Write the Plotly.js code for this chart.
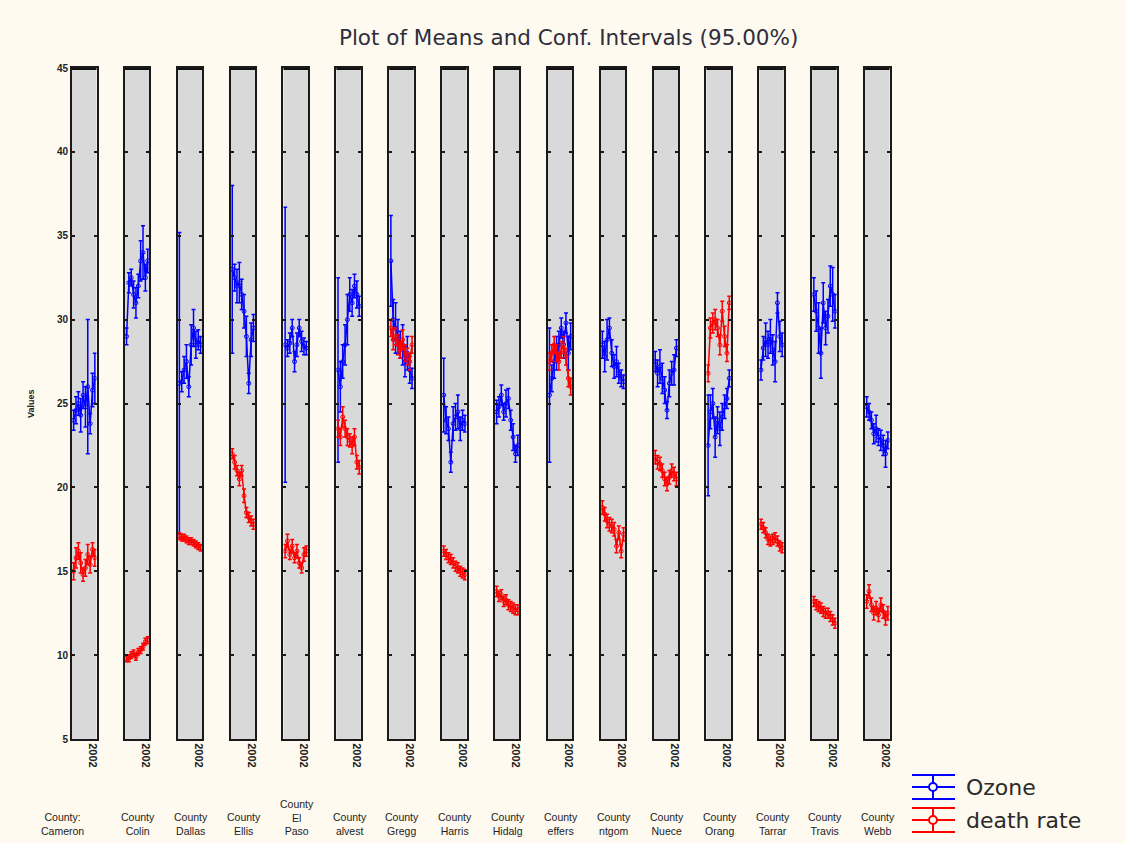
<!DOCTYPE html>
<html>
<head>
<meta charset="utf-8">
<script src="https://cdn.plot.ly/plotly-3.0.1.min.js"></script>
<style>
html,body{margin:0;padding:0;background:#FEFAEF;}
#chart{width:1126px;height:843px;}
</style>
</head>
<body>
<div id="chart"></div>
<script>
// ---- data ----
const countyLabels = ['County:<br>Cameron','County<br>Colin','County<br>Dallas','County<br>Ellis','County<br>El<br>Paso','County<br>alvest','County<br>Gregg','County<br>Harris','County<br>Hidalg','County<br>effers','County<br>ntgom','County<br>Nuece','County<br>Orang','County<br>Tarrar','County<br>Travis','County<br>Webb'];
const yearLabel = '2002';
const seriesNames = ['Ozone','death rate'];

const ozone = [
  [24.0, 24.6, 25.0, 24.3, 25.5, 24.8, 26.0, 23.8, 25.8, 26.5],
  [29.0, 32.2, 32.5, 31.5, 31.0, 32.0, 33.5, 34.0, 32.5, 33.5],
  [26.2, 26.3, 27.0, 27.5, 26.0, 28.5, 29.5, 28.5, 28.8, 28.5],
  [33.0, 32.5, 32.0, 32.2, 31.5, 30.5, 29.0, 26.2, 28.8, 29.5],
  [28.5, 28.3, 28.6, 29.5, 27.5, 28.5, 29.5, 28.7, 28.4, 28.3],
  [27.0, 26.0, 27.5, 28.5, 30.0, 31.5, 31.0, 32.0, 31.5, 30.8],
  [33.5, 30.0, 29.5, 29.0, 28.5, 28.5, 27.5, 28.0, 27.0, 26.5],
  [25.5, 24.0, 23.5, 21.5, 23.8, 24.2, 24.5, 23.5, 24.0, 23.8],
  [24.5, 24.8, 25.5, 24.5, 25.0, 25.3, 24.0, 23.0, 22.0, 22.5],
  [25.5, 26.5, 27.5, 28.0, 28.5, 29.5, 28.5, 29.8, 28.0, 29.0],
  [28.5, 27.8, 28.8, 29.5, 28.0, 27.2, 27.5, 26.8, 26.5, 26.3],
  [27.5, 26.8, 27.2, 26.5, 25.8, 24.6, 26.2, 26.8, 27.0, 28.3],
  [22.5, 24.5, 25.0, 23.0, 24.0, 23.5, 24.2, 24.8, 25.3, 26.5],
  [27.0, 28.3, 28.8, 28.5, 29.0, 28.2, 27.5, 31.0, 29.0, 28.5],
  [31.5, 30.5, 29.5, 28.0, 31.0, 29.5, 30.2, 32.0, 31.5, 30.5],
  [24.8, 24.5, 24.0, 23.2, 23.5, 23.0, 22.8, 22.5, 22.0, 22.8]
];
const ozoneErr = [
  [0.6, 0.8, 0.7, 1.0, 0.8, 1.2, 4.0, 0.6, 1.0, 1.5],
  [0.5, 0.6, 0.5, 0.8, 0.9, 0.7, 1.2, 1.6, 0.8, 0.7],
  [9.0, 0.6, 0.8, 1.0, 0.6, 1.2, 1.1, 0.8, 0.6, 0.5],
  [5.0, 0.8, 1.0, 1.2, 0.9, 1.0, 1.2, 0.6, 1.0, 0.8],
  [8.2, 0.5, 0.6, 0.5, 0.6, 0.7, 0.5, 0.6, 0.5, 0.4],
  [5.5, 1.5, 1.0, 1.2, 1.5, 1.0, 0.8, 0.7, 0.8, 0.6],
  [2.7, 1.2, 1.5, 1.0, 0.8, 1.2, 0.9, 1.0, 0.8, 0.6],
  [2.2, 0.8, 0.7, 0.6, 1.0, 0.8, 1.0, 0.7, 0.6, 0.5],
  [0.7, 0.6, 0.6, 0.5, 0.8, 0.6, 0.6, 0.8, 0.5, 0.6],
  [4.0, 0.8, 1.0, 1.0, 0.8, 0.6, 0.8, 0.6, 1.0, 0.8],
  [0.8, 0.9, 1.2, 0.6, 0.8, 0.7, 0.9, 0.6, 0.5, 0.4],
  [0.6, 0.8, 1.0, 0.9, 0.8, 0.5, 0.8, 0.7, 0.9, 0.5],
  [3.0, 1.0, 0.9, 1.2, 0.8, 1.0, 0.8, 0.7, 0.6, 0.5],
  [0.6, 0.7, 1.0, 0.8, 1.0, 0.9, 1.2, 0.6, 0.9, 0.7],
  [1.0, 1.2, 1.5, 1.5, 1.2, 1.0, 1.0, 1.2, 1.6, 1.0],
  [0.6, 0.5, 0.5, 0.6, 0.8, 0.5, 0.6, 0.6, 0.8, 0.5]
];
const death = [
  [15.0, 15.8, 16.2, 15.5, 14.8, 15.2, 16.0, 15.4, 16.3, 15.8],
  [9.8, 9.8, 10.0, 10.1, 9.9, 10.2, 10.3, 10.5, 10.8, 10.9],
  [17.1, 17.0, 17.0, 16.9, 16.8, 16.8, 16.7, 16.6, 16.5, 16.4],
  [22.0, 21.5, 21.0, 20.5, 21.0, 19.5, 18.5, 18.2, 18.0, 17.8],
  [16.2, 16.8, 16.0, 16.5, 15.8, 16.2, 15.5, 15.2, 16.0, 16.2],
  [23.5, 23.0, 24.2, 23.5, 23.0, 22.8, 22.5, 23.0, 21.5, 21.2],
  [29.5, 28.8, 29.0, 28.5, 28.2, 28.8, 28.0, 27.8, 27.5, 28.5],
  [16.2, 16.0, 15.8, 15.7, 15.5, 15.3, 15.2, 15.0, 14.9, 14.8],
  [13.8, 13.5, 13.6, 13.2, 13.3, 13.0, 12.9, 12.8, 12.7, 12.7],
  [27.5, 28.0, 28.5, 28.0, 27.5, 28.2, 28.5, 27.8, 26.5, 26.0],
  [18.8, 18.4, 18.0, 17.8, 17.7, 17.5, 16.5, 17.3, 16.2, 17.2],
  [21.8, 21.5, 21.4, 21.0, 20.5, 20.2, 20.6, 21.0, 20.8, 20.5],
  [26.8, 29.5, 29.8, 30.0, 29.5, 28.5, 30.5, 29.0, 28.0, 31.0],
  [17.8, 17.6, 17.3, 16.9, 16.8, 16.9, 17.0, 16.8, 16.5, 16.4],
  [13.2, 13.0, 12.9, 12.8, 12.6, 12.5, 12.5, 12.3, 12.1, 11.9],
  [13.2, 13.8, 13.0, 12.5, 12.8, 12.4, 13.0, 12.6, 12.2, 12.5]
];
const deathErr = [
  [0.5, 0.6, 0.5, 0.6, 0.4, 0.5, 0.6, 0.5, 0.4, 0.5],
  [0.2, 0.2, 0.2, 0.2, 0.2, 0.2, 0.2, 0.2, 0.2, 0.2],
  [0.2, 0.2, 0.2, 0.2, 0.2, 0.2, 0.2, 0.2, 0.2, 0.2],
  [0.3, 0.4, 0.3, 0.4, 0.3, 0.4, 0.3, 0.3, 0.3, 0.3],
  [0.4, 0.4, 0.3, 0.4, 0.3, 0.4, 0.3, 0.3, 0.4, 0.3],
  [0.5, 0.5, 0.6, 0.5, 0.5, 0.4, 0.5, 0.5, 0.4, 0.4],
  [0.5, 0.6, 0.5, 0.6, 0.5, 0.6, 0.5, 0.5, 0.5, 0.5],
  [0.3, 0.3, 0.3, 0.3, 0.3, 0.3, 0.3, 0.3, 0.3, 0.3],
  [0.3, 0.3, 0.3, 0.3, 0.3, 0.3, 0.3, 0.3, 0.3, 0.3],
  [0.5, 0.5, 0.5, 0.5, 0.5, 0.5, 0.5, 0.5, 0.5, 0.5],
  [0.4, 0.4, 0.4, 0.4, 0.4, 0.4, 0.4, 0.4, 0.4, 0.4],
  [0.4, 0.4, 0.4, 0.4, 0.4, 0.4, 0.4, 0.4, 0.4, 0.4],
  [0.5, 0.6, 0.6, 0.6, 0.5, 0.6, 0.6, 0.6, 0.5, 0.4],
  [0.3, 0.3, 0.3, 0.3, 0.3, 0.3, 0.3, 0.3, 0.3, 0.3],
  [0.3, 0.3, 0.3, 0.3, 0.3, 0.3, 0.3, 0.3, 0.3, 0.3],
  [0.4, 0.4, 0.4, 0.4, 0.4, 0.4, 0.4, 0.4, 0.4, 0.4]
];
const xIndex = [0,1,2,3,4,5,6,7,8,9];
const yTicks = [5,10,15,20,25,30,35,40,45];

// ---- build ----
const W = 1126, H = 843, plotTop = 68, plotBottom = 739;
const panelLeft = 72, panelPitch = 52.87, panelWidth = 24.5;
const colors = ['#0000FF', '#FF0000'];
const FONT = 'Liberation Sans, Arial, sans-serif';
const py = p => (plotBottom - p) / (plotBottom - plotTop); // pixel row -> paper y
const px = p => p / W;

const traces = [];
const layout = {
  width: W, height: H,
  paper_bgcolor: '#FEFAEF',
  plot_bgcolor: '#D9D9D9',
  margin: {l: 0, r: 0, t: plotTop, b: H - plotBottom},
  showlegend: false,
  title: {text: 'Plot of Means and Conf. Intervals (95.00%)', x: 0.505, xanchor: 'center', y: 0.955, yanchor: 'middle',
          font: {family: 'DejaVu Sans, Verdana, sans-serif', size: 21.5, color: '#2e2e3c'}},
  annotations: [],
  shapes: []
};

countyLabels.forEach((lab, i) => {
  const n = i + 1;
  const xa = n === 1 ? 'x' : 'x' + n;
  const ya = n === 1 ? 'y' : 'y' + n;
  const left = panelLeft + i * panelPitch;
  layout[n === 1 ? 'xaxis' : 'xaxis' + n] = {
    domain: [left / W, (left + panelWidth) / W],
    anchor: ya,
    range: [-0.7, 9.7],
    showline: true, mirror: true, linecolor: '#1a1a1a', linewidth: 2,
    showgrid: false, zeroline: false,
    tickmode: 'array', tickvals: [8], ticktext: [yearLabel], tickangle: 90,
    ticks: '', tickfont: {family: FONT, size: 11, color: '#222', weight: 'bold'},
    fixedrange: true
  };
  layout[n === 1 ? 'yaxis' : 'yaxis' + n] = {
    domain: [0, 1],
    anchor: xa,
    range: [5, 45],
    tickmode: 'array', tickvals: yTicks,
    showticklabels: n === 1,
    ticks: 'inside', ticklen: 3, tickwidth: 2, tickcolor: '#1a1a1a',
    showline: true, mirror: 'ticks', linecolor: '#1a1a1a', linewidth: 2,
    showgrid: false, zeroline: false,
    tickfont: {family: FONT, size: 10, color: '#222', weight: 'bold'},
    fixedrange: true
  };
  // thick top border
  layout.shapes.push({type: 'line', xref: xa + ' domain', yref: ya, x0: 0, x1: 1, y0: 45, y1: 45,
                      line: {color: '#111', width: 4}});
  // county label (first one sits further left, as in the original)
  const shift = i === 0 ? -22 : 1;
  layout.annotations.push({text: lab, xref: 'paper', yref: 'paper', x: px(left + panelWidth / 2 + shift),
                           y: py(839), xanchor: 'center', yanchor: 'bottom', showarrow: false,
                           font: {family: FONT, size: 10.5, color: '#222'}});
  [[ozone, ozoneErr], [death, deathErr]].forEach((pair, s) => {
    traces.push({
      type: 'scatter', mode: 'lines+markers',
      x: xIndex, y: pair[0][i],
      xaxis: xa, yaxis: ya,
      name: seriesNames[s], legendgroup: seriesNames[s], showlegend: false,
      line: {color: colors[s], width: 1.5},
      marker: {symbol: 'circle-open', size: 4, color: colors[s], line: {width: 1}},
      error_y: {type: 'data', array: pair[1][i], visible: true, color: colors[s], thickness: 1.5, width: 2},
      cliponaxis: true
    });
  });
});

// y-axis title
layout.annotations.push({text: 'Values', xref: 'paper', yref: 'paper', x: px(31), y: py(404),
                         textangle: -90, showarrow: false, xanchor: 'center', yanchor: 'middle',
                         font: {family: FONT, size: 9, color: '#222', weight: 'bold'}});

// legend drawn as error-bar glyphs + labels
seriesNames.forEach((name, s) => {
  const cy = 787 + s * 33;
  const c = colors[s];
  [-12, 0, 12].forEach(dy => layout.shapes.push({type: 'line', xref: 'paper', yref: 'paper',
    x0: px(912), x1: px(955), y0: py(cy + dy), y1: py(cy + dy), line: {color: c, width: 2}}));
  layout.shapes.push({type: 'line', xref: 'paper', yref: 'paper', x0: px(933), x1: px(933),
    y0: py(cy - 12), y1: py(cy + 12), line: {color: c, width: 2}});
  layout.shapes.push({type: 'circle', xref: 'paper', yref: 'paper', x0: px(929), x1: px(937),
    y0: py(cy + 4), y1: py(cy - 4), line: {color: c, width: 2}, fillcolor: '#FEFAEF'});
  layout.annotations.push({text: name, xref: 'paper', yref: 'paper', x: px(964), y: py(cy),
    xanchor: 'left', yanchor: 'middle', showarrow: false,
    font: {family: 'DejaVu Sans, Verdana, sans-serif', size: 22, color: '#2a2a2a'}});
});

Plotly.newPlot('chart', traces, layout, {displayModeBar: false, staticPlot: true});
</script>
</body>
</html>
